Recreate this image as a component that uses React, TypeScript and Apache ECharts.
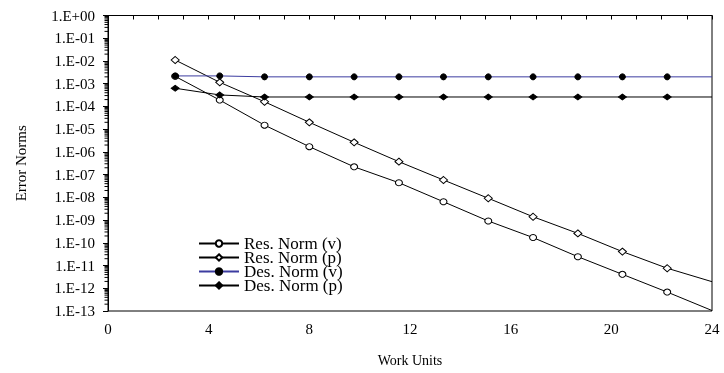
import React, { useEffect, useRef } from "react";
import * as echarts from "echarts";

const workUnits = [2.67, 4.44, 6.22, 8.0, 9.78, 11.56, 13.33, 15.11, 16.89, 18.67, 20.44, 22.22, 24];
const resNormV = [2.1e-3, 1.9e-4, 1.5e-5, 1.7e-6, 2.2e-7, 4.4e-8, 6.4e-9, 9.1e-10, 1.7e-10, 2.45e-11, 4.1e-12, 6.8e-13, 1.05e-13];
const resNormP = [1.1e-2, 1.15e-3, 1.6e-4, 2.0e-5, 2.64e-6, 3.7e-7, 5.8e-8, 9.1e-9, 1.4e-9, 2.6e-10, 4.1e-11, 7.6e-12, 1.95e-12];
const desNormV = [2.2e-3, 2.2e-3, 2.0e-3, 2.0e-3, 2.0e-3, 2.0e-3, 2.0e-3, 2.0e-3, 2.0e-3, 2.0e-3, 2.0e-3, 2.0e-3, 2.0e-3];
const desNormP = [6.3e-4, 3.2e-4, 2.6e-4, 2.6e-4, 2.6e-4, 2.6e-4, 2.6e-4, 2.6e-4, 2.6e-4, 2.6e-4, 2.6e-4, 2.6e-4, 2.6e-4];
const seriesNames = ["Res. Norm (v)", "Res. Norm (p)", "Des. Norm (v)", "Des. Norm (p)"];
const yExpMin = -13;
const yExpMax = 0;

const FONT = "'Liberation Serif', 'Times New Roman', serif";

function toData(vals: number[]) {
  return workUnits.map((x, i) => {
    const item: any = { value: [x, Math.log10(vals[i])] };
    if (i === workUnits.length - 1) item.symbol = "none";
    return item;
  });
}

function fmtExp(v: number) {
  const e = Math.round(v);
  const sign = e < 0 ? "-" : "+";
  const a = Math.abs(e);
  return "1.E" + sign + (a < 10 ? "0" + a : String(a));
}

export default function App() {
  const ref = useRef<HTMLDivElement>(null);
  useEffect(() => {
    if (!ref.current) return;
    const chart = echarts.init(ref.current, null, { renderer: "svg" });
    const minorPos: number[][] = [];
    for (let k = yExpMin; k < yExpMax; k++) {
      for (let m = 2; m <= 9; m++) minorPos.push([0, k + Math.log10(m)]);
    }
    const lineBase = (name: string, vals: number[], symbol: string, size: any, filled: boolean, color: string) => ({
      name,
      type: "line",
      data: toData(vals),
      symbol,
      symbolSize: size,
      showSymbol: true,
      lineStyle: { color, width: 1 },
      itemStyle: filled
        ? { color: "#000", borderColor: "#000", borderWidth: 1 }
        : { color: "#fff", borderColor: "#000", borderWidth: 1 },
      color: color,
      emphasis: { disabled: true },
      clip: true,
    });
    chart.setOption({
      animation: false,
      grid: {
        left: 108,
        top: 15.5,
        width: 604,
        height: 295.5,
        show: true,
        borderColor: "#000",
        borderWidth: 1,
        backgroundColor: "transparent",
      },
      legend: {
        orient: "vertical",
        left: 198,
        top: 235,
        padding: 0,
        itemWidth: 40,
        itemHeight: 8,
        itemGap: -3,
        data: seriesNames,
        textStyle: { fontFamily: FONT, fontSize: 17, color: "#000" },
        selectedMode: false,
      },
      xAxis: {
        type: "value",
        min: 0,
        max: 24,
        interval: 4,
        name: "Work Units",
        nameLocation: "middle",
        nameGap: 42,
        nameTextStyle: { fontFamily: FONT, fontSize: 14, color: "#000" },
        axisLine: { lineStyle: { color: "#000", width: 1 } },
        axisTick: { show: true, inside: false, length: 4, lineStyle: { color: "#000" } },
        minorTick: { show: true, splitNumber: 4, length: 4, lineStyle: { color: "#000" } },
        splitLine: { show: false },
        axisLabel: { fontFamily: FONT, fontSize: 15, color: "#000", margin: 10 },
      },
      yAxis: {
        type: "value",
        min: yExpMin,
        max: yExpMax,
        interval: 1,
        name: "Error Norms",
        nameLocation: "middle",
        nameGap: 80,
        nameTextStyle: { fontFamily: FONT, fontSize: 15, color: "#000" },
        axisLine: { show: true, lineStyle: { color: "#000", width: 1 } },
        axisTick: { show: true, inside: false, length: 5, lineStyle: { color: "#000" } },
        splitLine: { show: false },
        axisLabel: { fontFamily: FONT, fontSize: 15, color: "#000", margin: 13, formatter: fmtExp },
      },
      series: [
        lineBase(seriesNames[0], resNormV, "circle", [7, 6], false, "#000"),
        lineBase(seriesNames[1], resNormP, "diamond", [8, 7], false, "#000"),
        lineBase(seriesNames[2], desNormV, "circle", 6, true, "#3c3ca0"),
        lineBase(seriesNames[3], desNormP, "diamond", [8, 6], true, "#000"),
        {
          type: "custom",
          name: "minorTicks",
          silent: true,
          data: minorPos,
          z: 10,
          renderItem: (params: any, api: any) => {
            const p = api.coord([0, api.value(1)]);
            return {
              type: "line",
              shape: { x1: p[0] - 3.5, y1: p[1], x2: p[0], y2: p[1] },
              style: { stroke: "#000", lineWidth: 1 },
            };
          },
        },
      ],
    });
    return () => chart.dispose();
  }, []);
  return <div ref={ref} style={{ position: "fixed", left: 0, top: 0, width: 724, height: 373 }} />;
}
